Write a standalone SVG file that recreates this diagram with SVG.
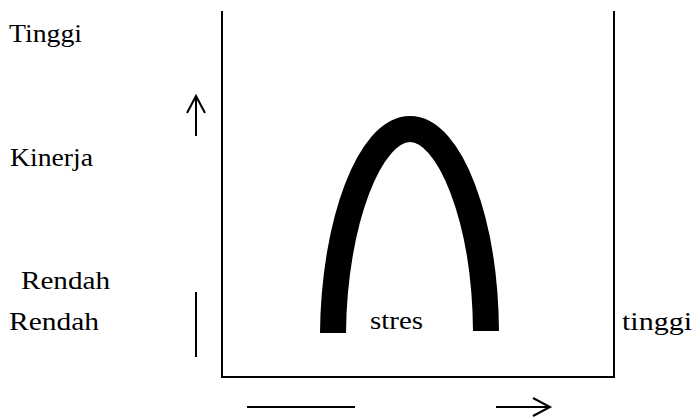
<svg xmlns="http://www.w3.org/2000/svg" width="693" height="419" viewBox="0 0 693 419">
<style>
.t{font-size:25px;fill:#000}
.ln{stroke:#000;stroke-width:2;fill:none}
</style>
<rect width="693" height="419" fill="#fff"/>
<g id="labels" font-family="Liberation Serif, DejaVu Serif, serif">
<text class="t" x="9" y="42" textLength="73" lengthAdjust="spacingAndGlyphs">Tinggi</text>
<text class="t" x="10" y="166" textLength="83" lengthAdjust="spacingAndGlyphs">Kinerja</text>
<text class="t" x="21" y="289" textLength="89" lengthAdjust="spacingAndGlyphs">Rendah</text>
<text class="t" x="9" y="330" textLength="90" lengthAdjust="spacingAndGlyphs">Rendah</text>
<text class="t" x="370" y="329" textLength="53" lengthAdjust="spacingAndGlyphs">stres</text>
<text class="t" x="622" y="330" textLength="70" lengthAdjust="spacingAndGlyphs">tinggi</text>
</g>
<g id="frame">
<path class="ln" d="M222 11 V377 H614 V11"/>
</g>
<g id="curve">
<path d="M333 333 C334 222 370 129 410 129 C450 129 485 220 486 331" stroke="#000" stroke-width="26" fill="none"/>
</g>
<g id="connectors">
<path class="ln" d="M196 136 V96 M187 113 L196 96 L205 113"/>
<path class="ln" d="M196 292 V357"/>
<path class="ln" d="M247 407 H355"/>
<path class="ln" d="M496 407 H550 M533 398 L550 407 L533 416"/>
</g>
</svg>
